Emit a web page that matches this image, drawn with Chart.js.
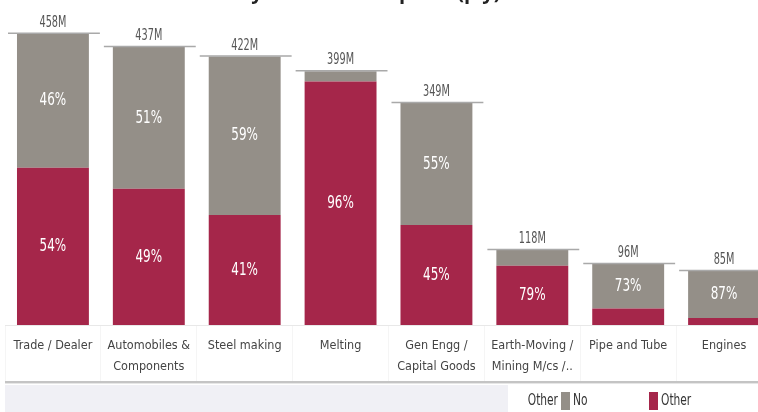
<!DOCTYPE html>
<html>
<head>
<meta charset="utf-8">
<script src="https://cdn.jsdelivr.net/npm/chart.js@4/dist/chart.umd.min.js"></script>
<style>
  html, body { margin: 0; padding: 0; background: #fff; }
  #wrap { width: 758px; height: 412px; overflow: hidden; position: relative; }
</style>
</head>
<body>
<div id="wrap"><canvas id="chart" width="772" height="412"></canvas></div>
<script>
const FONT = '"Liberation Sans Narrow", "Arial Narrow", "DejaVu Sans Condensed", sans-serif';

const TITLE = 'Industry wise Consumption (p.y)';
const CATEGORIES = [
    'Trade / Dealer', ['Automobiles &', 'Components'], 'Steel making', 'Melting',
    ['Gen Engg /', 'Capital Goods'], ['Earth-Moving /', 'Mining M/cs /..'], 'Pipe and Tube', 'Engines'
];
const TOTALS = [458, 437, 422, 399, 349, 118, 96, 85];        // M
const PCT_OTHER = [54, 49, 41, 96, 45, 79, 27, 13];           // %
const PCT_NO = [46, 51, 59, 4, 55, 21, 73, 87];               // %
const SERIES = ['Other', 'No'];
const COLORS = { Other: '#a5264a', No: '#948f88' };

const otherVals = TOTALS.map((t, i) => t * PCT_OTHER[i] / 100);
const noVals = TOTALS.map((t, i) => t * PCT_NO[i] / 100);

// narrow-looking text: condensed font squeezed a bit more
function narrowText(ctx, text, x, y, size, squeeze) {
    ctx.save();
    ctx.font = size + 'px ' + FONT;
    ctx.translate(x, y);
    ctx.scale(squeeze, 1);
    ctx.fillText(text, 0, 0);
    ctx.restore();
}

// totals + horizontal line above each bar, percentages inside segments
const labelsPlugin = {
    id: 'labels',
    afterDatasetsDraw(chart) {
        const { ctx, scales: { x, y } } = chart;
        const slot = x.width / CATEGORIES.length;
        ctx.save();
        TOTALS.forEach((t, i) => {
            const cx = x.getPixelForValue(i);
            const top = y.getPixelForValue(t);
            ctx.strokeStyle = '#a9a9a9';
            ctx.lineWidth = 1.5;
            ctx.beginPath();
            ctx.moveTo(cx - slot / 2 + 3, top - 0.5);
            ctx.lineTo(cx + slot / 2 - 1, top - 0.5);
            ctx.stroke();
            ctx.fillStyle = '#555';
            ctx.textAlign = 'center';
            ctx.textBaseline = 'alphabetic';
            narrowText(ctx, t + 'M', cx, top - 7, 15, 0.72);
        });
        ctx.fillStyle = '#fff';
        ctx.textAlign = 'center';
        ctx.textBaseline = 'middle';
        chart.data.datasets.forEach((ds, di) => {
            const meta = chart.getDatasetMeta(di);
            meta.data.forEach((bar, i) => {
                const h = Math.abs(bar.base - bar.y);
                if (h < 30) return;
                narrowText(ctx, ds.pct[i] + '%', bar.x, (bar.y + bar.base) / 2, 18, 0.74);
            });
        });
        ctx.restore();
    }
};

// title (cut at top), bottom band and legend
const framePlugin = {
    id: 'frame',
    afterDraw(chart) {
        const { ctx } = chart;
        ctx.save();
        ctx.font = 'bold 20px "Open Sans", sans-serif';
        ctx.fillStyle = '#222';
        ctx.textAlign = 'left';
        ctx.textBaseline = 'alphabetic';
        ctx.fillText(TITLE, 178, -1);

        ctx.fillStyle = '#c4c4c4';
        ctx.fillRect(5, 381, 767, 2);
        ctx.fillStyle = '#e6e6e6';
        ctx.fillRect(5, 383, 767, 1);
        ctx.fillStyle = '#f0f0f5';
        ctx.fillRect(5, 385, 503, 27);

        ctx.fillStyle = '#333';
        ctx.textBaseline = 'middle';
        ctx.textAlign = 'right';
        narrowText(ctx, 'Other', 558, 401, 16, 0.74);
        ctx.textAlign = 'left';
        narrowText(ctx, 'No', 573, 401, 16, 0.74);
        narrowText(ctx, 'Other', 661, 401, 16, 0.74);
        ctx.fillStyle = COLORS.No;
        ctx.fillRect(561, 392, 9, 18);
        ctx.fillStyle = COLORS.Other;
        ctx.fillRect(649, 392, 9, 18);
        ctx.restore();
    }
};

new Chart(document.getElementById('chart'), {
    type: 'bar',
    data: {
        labels: CATEGORIES,
        datasets: [
            { label: SERIES[0], data: otherVals, pct: PCT_OTHER, backgroundColor: COLORS.Other },
            { label: SERIES[1], data: noVals, pct: PCT_NO, backgroundColor: COLORS.No },
        ]
    },
    options: {
        responsive: false,
        animation: false,
        layout: { padding: { left: 5, right: 0, top: 7, bottom: 31 } },
        datasets: { bar: { categoryPercentage: 1, barPercentage: 0.75 } },
        scales: {
            x: {
                stacked: true,
                grid: { drawOnChartArea: false, color: '#f5f5f5', tickLength: 56 },
                border: { color: '#e8e8e8' },
                ticks: {
                    color: '#444', font: { family: FONT, size: 12.5, lineHeight: 1.7 },
                    padding: -46, maxRotation: 0, autoSkip: false
                },
                afterFit(scale) { scale.height = 56; }
            },
            y: { stacked: true, display: false, min: 0, max: 500 }
        },
        plugins: { legend: { display: false }, tooltip: { enabled: false } }
    },
    plugins: [labelsPlugin, framePlugin]
});
</script>
</body>
</html>
